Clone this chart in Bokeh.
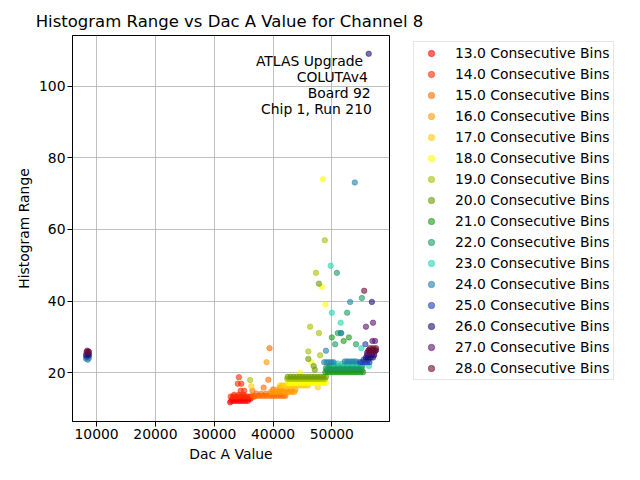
from bokeh.plotting import figure
from bokeh.layouts import row, column
from bokeh.models import Range1d, FixedTicker, Legend, LegendItem, Label, ColumnDataSource
from bokeh.embed import file_html
from bokeh.resources import INLINE

# ---- data ----
bins = [13.0, 14.0, 15.0, 16.0, 17.0, 18.0, 19.0, 20.0, 21.0, 22.0, 23.0, 24.0, 25.0, 26.0, 27.0, 28.0]
colors = ["#ff0000", "#ff2a00", "#ff6a00", "#ff9a00", "#ffcc00", "#ffff00", "#a8c000", "#6a9a00",
          "#1a9a1a", "#1a9a60", "#20d8b0", "#2080a8", "#2040b0", "#20106e", "#5a1070", "#6a0a30"]

dac_13 = [32700, 32900, 33300, 33700, 34100, 34500, 34900, 35300, 35700,
          33100, 33500, 33900, 34300, 34700, 35100, 35500, 35900, 36200]
rng_13 = [11.8, 12.2, 12.2, 12.2, 12.2, 12.2, 12.2, 12.2, 12.2,
          12.8, 12.8, 12.8, 12.8, 12.8, 12.8, 12.8, 12.8, 12.8]

dac_14 = [32800, 33200, 33600, 34000, 34400, 34800, 35200, 35600, 36000, 36400, 36800,
          33400, 34200, 35000, 34200, 34000, 34600, 34500, 35100]
rng_14 = [13.4, 13.4, 13.4, 13.4, 13.4, 13.4, 13.4, 13.4, 13.4, 13.4, 13.4,
          13.9, 13.9, 13.9, 18.8, 17.0, 17.0, 15.0, 15.0]

dac_15 = [36600, 37000, 37400, 37800, 38200, 38600, 39000, 39400, 39800, 40200, 40600, 41000, 41400, 41800, 42100,
          37200, 38000, 38800, 39600, 40400, 41200, 39400, 39200, 38400, 40000, 41200, 36500]
rng_15 = [13.6, 13.6, 13.6, 13.6, 13.6, 13.6, 13.6, 13.6, 13.6, 13.6, 13.6, 13.6, 13.6, 13.6, 13.6,
          14.2, 14.2, 14.2, 14.2, 14.2, 14.2, 26.9, 18.1, 15.9, 15.4, 15.9, 15.0]

dac_16 = [39600, 40000, 40400, 40800, 41200, 41600, 42000, 42400, 42800, 43200, 43600,
          40600, 41400, 42200, 43000, 43800, 38900]
rng_16 = [14.7, 14.7, 14.7, 14.7, 14.7, 14.7, 14.7, 14.7, 14.7, 14.7, 14.7,
          15.3, 15.3, 15.3, 15.3, 15.3, 23.0]

dac_17 = [41200, 41600, 42000, 42400, 42800, 43200, 43600, 44000, 44400, 44800, 45200, 45600, 46000,
          36300, 47600]
rng_17 = [16.5, 16.5, 16.5, 16.5, 16.5, 16.5, 16.5, 16.5, 16.5, 16.5, 16.5, 16.5, 16.5,
          16.3, 16.0]

dac_18 = [42600, 43000, 43400, 43800, 44200, 44600, 45000, 45400, 45800, 46200, 46600, 47000, 47400, 47800,
          48200, 48600, 49000, 43200, 44000, 44800, 45600, 46400, 47200, 48000, 48800,
          48500, 48300, 48900, 46500, 44600]
rng_18 = [17.2, 17.2, 17.2, 17.2, 17.2, 17.2, 17.2, 17.2, 17.2, 17.2, 17.2, 17.2, 17.2, 17.2,
          17.2, 17.2, 17.2, 17.8, 17.8, 17.8, 17.8, 17.8, 17.8, 17.8, 17.8,
          74.0, 44.0, 39.1, 23.0, 20.0]

dac_19 = [42400, 42800, 43200, 43600, 44000, 44400, 44800, 45200, 45600, 46000, 46400, 46800, 47200,
          47600, 48000, 48400, 48800, 48800, 47300, 46300, 47800, 46000, 48000, 36100]
rng_19 = [18.3, 18.3, 18.3, 18.3, 18.3, 18.3, 18.3, 18.3, 18.3, 18.3, 18.3, 18.3, 18.3,
          18.3, 18.3, 18.3, 18.3, 57.0, 47.9, 32.9, 31.1, 26.0, 24.9, 18.0]

dac_20 = [42500, 43000, 43500, 44000, 44500, 45000, 45500, 46000, 46500, 47000, 47500, 48000, 48500, 49000,
          47800, 46000, 46900, 47100]
rng_20 = [18.9, 18.9, 18.9, 18.9, 18.9, 18.9, 18.9, 18.9, 18.9, 18.9, 18.9, 18.9, 18.9, 18.9,
          44.9, 23.9, 21.9, 20.9]

dac_21 = [48900, 49300, 49700, 50100, 50500, 50900, 51300, 51700, 52100, 52500, 52900, 53300, 53700,
          54100, 54500, 54900, 55300, 49100, 49500, 49900, 50300, 50700, 51100, 51500, 51900, 52300,
          52700, 53100, 53500, 53900, 54300, 54700, 55100, 50000, 52000, 52900]
rng_21 = [20.2, 20.2, 20.2, 20.2, 20.2, 20.2, 20.2, 20.2, 20.2, 20.2, 20.2, 20.2, 20.2,
          20.2, 20.2, 20.2, 20.2, 20.8, 20.8, 20.8, 20.8, 20.8, 20.8, 20.8, 20.8, 20.8,
          20.8, 20.8, 20.8, 20.8, 20.8, 20.8, 20.8, 29.9, 28.9, 29.9]

dac_22 = [49000, 49400, 49800, 50200, 50600, 51000, 51400, 51800, 52200, 52600, 53000, 53400, 53800,
          54200, 54600, 55000, 49600, 50400, 51200, 52000, 52800, 53600, 54400, 55200,
          50850, 55100, 52600, 51000, 51500, 50550, 54100]
rng_22 = [21.4, 21.4, 21.4, 21.4, 21.4, 21.4, 21.4, 21.4, 21.4, 21.4, 21.4, 21.4, 21.4,
          21.4, 21.4, 21.4, 22.0, 22.0, 22.0, 22.0, 22.0, 22.0, 22.0, 22.0,
          47.9, 40.9, 36.8, 31.1, 31.1, 28.0, 28.0]

dac_23 = [50200, 51000, 51800, 52600, 53400, 54200, 55000, 49800, 50000, 51500, 55000, 56300]
rng_23 = [22.6, 22.6, 22.6, 22.6, 22.6, 22.6, 22.6, 49.9, 36.8, 34.0, 26.9, 21.9]

dac_24 = [48700, 49100, 49500, 49900, 50300, 52200, 52600, 53000, 53400, 53800, 54200,
          53900, 53100, 49000, 51600, 8200, 8500, 8700]
rng_24 = [23.0, 23.0, 23.0, 23.0, 23.0, 23.2, 23.2, 23.2, 23.2, 23.2, 23.2,
          73.1, 39.8, 26.2, 31.1, 24.0, 23.7, 24.2]

dac_25 = [54800, 55200, 55600, 56000, 56400, 55400, 55800, 56200, 55700, 8300, 8600]
rng_25 = [23.0, 23.0, 23.0, 23.0, 23.0, 23.7, 23.7, 23.7, 28.0, 24.5, 24.8]

dac_26 = [55800, 56200, 56600, 57000, 56000, 56400, 56800, 57200, 56270, 56800, 8200, 8500, 8700]
rng_26 = [24.3, 24.3, 24.3, 24.3, 25.0, 25.0, 25.0, 25.0, 109.0, 39.8, 25.0, 25.3, 25.1]

dac_27 = [56000, 56400, 56800, 57200, 56200, 56600, 57000, 57400, 55800, 56900, 57350, 57000, 8300, 8600]
rng_27 = [25.6, 25.6, 25.6, 25.6, 26.2, 26.2, 26.2, 26.2, 32.9, 28.9, 28.9, 34.0, 25.8, 26.0]

dac_28 = [56300, 56700, 57100, 57500, 56500, 57000, 57500, 55500, 8400, 8700]
rng_28 = [26.3, 26.3, 26.3, 26.3, 26.9, 26.9, 26.9, 42.9, 26.2, 25.8]

series_dac = [dac_13, dac_14, dac_15, dac_16, dac_17, dac_18, dac_19, dac_20,
              dac_21, dac_22, dac_23, dac_24, dac_25, dac_26, dac_27, dac_28]
series_rng = [rng_13, rng_14, rng_15, rng_16, rng_17, rng_18, rng_19, rng_20,
              rng_21, rng_22, rng_23, rng_24, rng_25, rng_26, rng_27, rng_28]

x_ticks = [10000, 20000, 30000, 40000, 50000]
y_ticks = [20, 40, 60, 80, 100]
title_text = "Histogram Range vs Dac A Value for Channel 8"
annot_lines = ["ATLAS Upgrade", "COLUTAv4", "Board 92", "Chip 1, Run 210"]

FONT = "DejaVu Sans"
TOTAL_W, TITLE_H, MAIN_W, MAIN_H = 624, 34, 394, 430

def bare(fig):
    fig.outline_line_color = None
    fig.xgrid.visible = False
    fig.ygrid.visible = False
    fig.background_fill_color = "white"
    fig.border_fill_color = "white"

# ---- title strip ----
tf = figure(width=TOTAL_W, height=TITLE_H, output_backend="svg", toolbar_location=None,
            x_range=Range1d(0, TOTAL_W), y_range=Range1d(0, TITLE_H),
            x_axis_location=None, y_axis_location=None,
            min_border_left=0, min_border_right=0, min_border_top=0, min_border_bottom=0)
bare(tf)
tf.add_layout(Label(x=229, y=13, text=title_text, text_align="center", text_baseline="middle",
                    text_font=FONT, text_font_size="16.5px", text_color="black"))

# ---- main chart ----
p = figure(width=MAIN_W, height=MAIN_H, output_backend="svg", toolbar_location=None,
           x_range=Range1d(5900, 59800), y_range=Range1d(6.45, 114.1),
           min_border_left=72, min_border_right=5, min_border_top=1, min_border_bottom=40)
p.outline_line_color = "black"
p.outline_line_width = 1
p.background_fill_color = "white"
p.border_fill_color = "white"

for ax, ticks, lab in ((p.xaxis[0], x_ticks, "Dac A Value"), (p.yaxis[0], y_ticks, "Histogram Range")):
    ax.ticker = FixedTicker(ticks=ticks)
    ax.axis_label = lab
    ax.axis_label_text_font = FONT
    ax.axis_label_text_font_size = "13.9px"
    ax.axis_label_text_font_style = "normal"
    ax.axis_label_text_color = "black"
    ax.major_label_text_font = FONT
    ax.major_label_text_font_size = "13.9px"
    ax.major_label_text_color = "black"
    ax.major_tick_out = 5
    ax.major_tick_in = 0
    ax.minor_tick_out = 0
    ax.minor_tick_in = 0
    ax.axis_line_color = "black"
    ax.major_tick_line_color = "black"
    ax.major_label_standoff = 2
    ax.axis_label_standoff = 4

p.xgrid.ticker = FixedTicker(ticks=x_ticks)
p.ygrid.ticker = FixedTicker(ticks=y_ticks)
for g in (p.xgrid[0], p.ygrid[0]):
    g.grid_line_color = "#b0b0b0"
    g.grid_line_width = 0.8

# ---- legend-only figure to the right of the chart ----
lf = figure(width=TOTAL_W - MAIN_W, height=MAIN_H, output_backend="svg", toolbar_location=None,
            x_range=Range1d(0, 1), y_range=Range1d(0, 1),
            x_axis_location=None, y_axis_location=None,
            min_border_left=0, min_border_right=0, min_border_top=0, min_border_bottom=0)
bare(lf)

items = []
for b, c, xs, ys in zip(bins, colors, series_dac, series_rng):
    src = ColumnDataSource(dict(x=xs, y=ys))
    style = dict(size=5.5, fill_color=c, line_color=c, fill_alpha=0.6, line_alpha=0.6, line_width=0.8)
    p.scatter("x", "y", source=src, **style)
    r2 = lf.scatter("x", "y", source=src, **style)  # off-range: only provides the legend swatch
    items.append(LegendItem(label=f"{b:.1f} Consecutive Bins", renderers=[r2]))

legend = Legend(items=items, location=(19, 41))
legend.label_text_font = FONT
legend.label_text_font_size = "13.9px"
legend.label_text_color = "black"
legend.label_height = 16
legend.glyph_height = 16
legend.glyph_width = 28
legend.spacing = 5
legend.padding = 3
legend.margin = 0
legend.label_standoff = 10
legend.border_line_color = "#cccccc"
legend.border_line_width = 1
legend.background_fill_alpha = 0.8
lf.add_layout(legend)

annot_x = [55300, 56100, 56600, 56800]
annot_y = [106.9, 102.4, 98.1, 93.7]
for t, ax_, ay_ in zip(annot_lines, annot_x, annot_y):
    p.add_layout(Label(x=ax_, y=ay_, text=t, text_align="right", text_baseline="middle",
                       text_font=FONT, text_font_size="13.9px", text_color="black"))

layout = column(tf, row(p, lf))
open("out.html", "w").write(file_html(layout, INLINE))
